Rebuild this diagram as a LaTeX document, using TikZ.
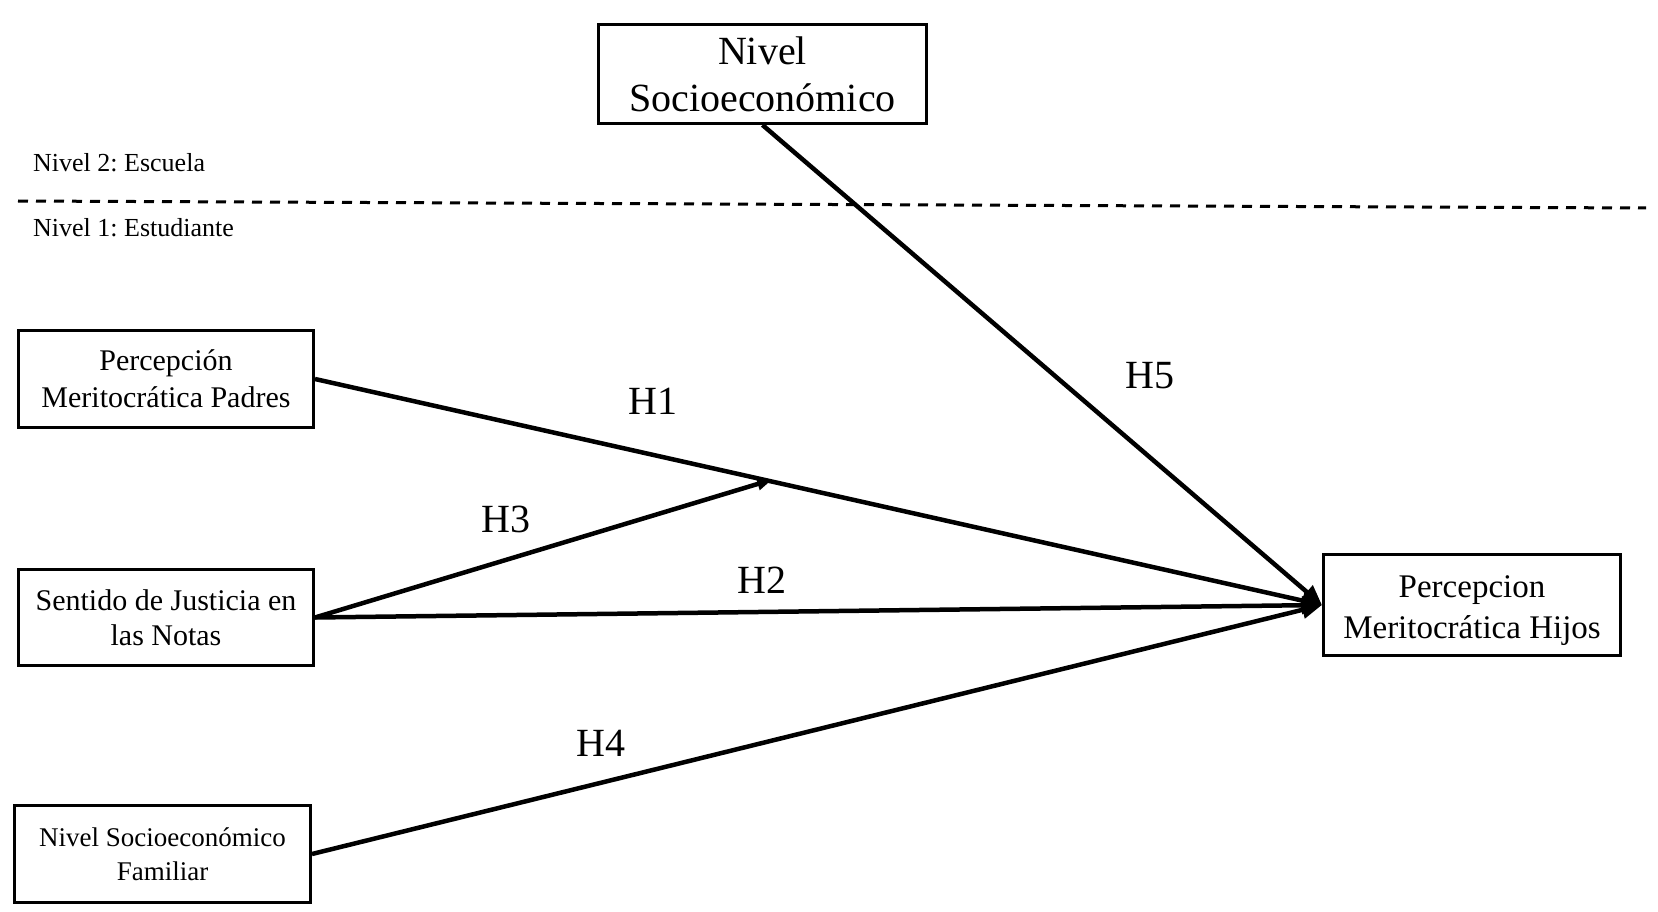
\documentclass[tikz,border=0pt]{standalone}
\usepackage{fontspec}
\setmainfont{Liberation Serif}
\usetikzlibrary{arrows.meta,calc}
\frenchspacing
\begin{document}
\begin{tikzpicture}[x=1pt,y=-1pt,
  box/.style={draw, line width=3pt, align=center, inner sep=1pt},
  bigtxt/.style={font=\fontsize{40}{47}\selectfont},
  hijotxt/.style={font=\fontsize{33}{41}\selectfont},
  midtxt/.style={font=\fontsize{30}{37}\selectfont},
  sentxt/.style={font=\fontsize{30}{35}\selectfont},
  famtxt/.style={font=\fontsize{27}{34}\selectfont},
  lvltxt/.style={font=\fontsize{26}{30}\selectfont, anchor=base west, inner sep=0pt},
  hlab/.style={font=\fontsize{40}{45}\selectfont, inner sep=0pt},
  conn/.style={line width=4.5pt, -{Triangle[length=20pt,width=17pt]}},
  connsmall/.style={line width=4.5pt, -{Triangle[length=15pt,width=12pt]}},
  levelline/.style={line width=3pt, dash pattern=on 10pt off 8pt}
]
\fill[white] (0,0) rectangle (1658,912);
\useasboundingbox (0,0) rectangle (1658,912);

% nodes
\node[box, bigtxt, minimum width=328pt, minimum height=99pt] (top) at (762.5,74) {Nivel\\Socioeconómico};
\node[box, midtxt, minimum width=295pt, minimum height=97pt] (padres) at (166,379) {Percepción\\Meritocrática Padres};
\node[box, sentxt, minimum width=295pt, minimum height=96pt] (sent) at (166,617.5) {Sentido de Justicia en\\las Notas};
\node[box, famtxt, minimum width=296pt, minimum height=97pt] (fam) at (162.5,854) {Nivel Socioeconómico\\Familiar};
\node[box, hijotxt, minimum width=297pt, minimum height=101pt] (hijos) at (1472,605) {\rule{0pt}{33pt}Percepcion\\Meritocrática Hijos};

% level labels and divider
\node[lvltxt] (n2) at (33,172) {Nivel 2: Escuela};
\node[lvltxt] (n1) at (33,237) {Nivel 1: Estudiante};
\coordinate (dl) at (18,201);
\coordinate (dr) at (1646,208);
\draw[levelline] (dl) -- (dr);

% connectors
\draw[conn] (padres.east) -- (hijos.west);
\coordinate (mod) at ($(padres.east)!0.454!(hijos.west)+(0,-2)$);
\draw[connsmall] (sent.east) -- (mod);
\draw[conn] (sent.east) -- (hijos.west);
\draw[conn] (fam.east) -- (hijos.west);
\draw[conn] (top.south) -- (hijos.west);

% hypothesis labels
\node[hlab] (h1) at (653,401) {H1};
\node[hlab] (h3) at (506,519) {H3};
\node[hlab] (h2) at (762,580) {H2};
\node[hlab] (h4) at (601,743) {H4};
\node[hlab] (h5) at (1150,376) {H5};
\end{tikzpicture}
\end{document}
